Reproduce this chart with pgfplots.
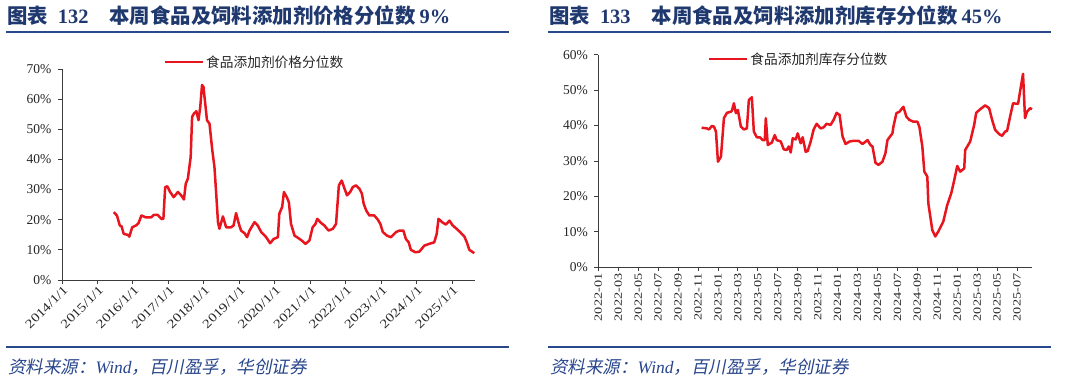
\documentclass[border=0pt]{standalone}
\usepackage{fontspec}
\usepackage{pgfplots}
\pgfplotsset{compat=1.18}
\usepackage{graphicx}
\setmainfont{Liberation Serif}
\newfontfamily\cjk{Noto Sans CJK SC}
\newfontfamily\cjkit[FakeSlant=0.2]{Noto Sans CJK SC}
\definecolor{navy}{RGB}{31,56,110}
\definecolor{rule}{RGB}{40,72,140}
\definecolor{srcblue}{RGB}{40,70,140}
\definecolor{lred}{RGB}{232,20,30}
\definecolor{axgray}{RGB}{60,60,60}
\newcommand{\sx}[1]{\scalebox{1.22}[1]{#1}}
\newcommand{\sy}[1]{\scalebox{1.3}[1]{#1}}

\pgfplotstableread{
x y
2015.46 22.5
2015.55 21.4
2015.63 18.1
2015.68 17.8
2015.74 15.3
2015.85 15.0
2015.90 14.4
2015.98 17.5
2016.09 18.1
2016.16 18.9
2016.24 21.4
2016.36 20.8
2016.52 20.8
2016.59 21.6
2016.70 21.6
2016.80 20.3
2016.86 20.3
2016.91 30.8
2016.97 31.1
2017.05 29.2
2017.15 27.5
2017.27 29.2
2017.36 28.1
2017.44 26.7
2017.49 31.9
2017.55 33.6
2017.63 40.8
2017.67 54.1
2017.72 55.2
2017.79 56.0
2017.85 53.0
2017.90 57.4
2017.95 64.7
2017.99 64.1
2018.09 53.0
2018.16 51.9
2018.24 43.0
2018.30 37.5
2018.35 28.6
2018.40 19.2
2018.44 17.0
2018.54 21.1
2018.63 17.5
2018.77 17.5
2018.84 18.1
2018.91 22.2
2018.99 18.6
2019.05 16.4
2019.15 15.5
2019.22 14.2
2019.29 16.4
2019.43 19.2
2019.52 18.1
2019.62 15.9
2019.76 14.2
2019.87 12.2
2019.97 13.6
2020.09 14.2
2020.13 22.0
2020.21 24.2
2020.26 29.2
2020.34 27.5
2020.40 25.8
2020.46 18.6
2020.56 14.7
2020.63 14.2
2020.74 13.3
2020.87 12.0
2020.98 13.1
2021.07 17.5
2021.15 18.6
2021.20 20.3
2021.31 18.9
2021.40 18.1
2021.52 16.4
2021.64 17.0
2021.73 18.6
2021.81 31.4
2021.89 33.0
2021.97 30.3
2022.04 28.1
2022.13 29.2
2022.20 30.8
2022.29 31.4
2022.39 30.3
2022.46 28.6
2022.51 25.3
2022.58 23.1
2022.67 21.4
2022.81 21.4
2022.91 20.0
2022.98 18.6
2023.05 15.9
2023.17 14.7
2023.28 14.2
2023.42 15.9
2023.52 16.4
2023.63 16.4
2023.70 13.6
2023.78 12.5
2023.84 10.0
2023.97 9.2
2024.08 9.4
2024.22 11.4
2024.36 12.0
2024.50 12.5
2024.57 15.3
2024.62 20.3
2024.72 19.2
2024.83 18.4
2024.93 19.7
2025.02 18.1
2025.13 17.0
2025.23 15.9
2025.35 14.4
2025.42 12.5
2025.49 10.0
2025.63 8.9
}\pricedata

\pgfplotstableread{
x y
10.36 39.4
10.9 39.2
11.1 38.9
11.4 39.9
11.6 39.7
11.8 38.3
11.9 34.1
12.0 29.8
12.3 31.2
12.6 42.1
12.9 43.6
13.3 43.9
13.4 44.2
13.6 46.3
13.8 43.5
14.0 44.4
14.3 39.7
14.6 38.9
14.9 39.2
15.1 47.2
15.4 48.0
15.6 38.3
15.9 36.7
16.2 36.7
16.5 35.9
16.7 35.9
16.8 42.1
17.0 34.5
17.4 35.2
17.7 37.3
17.9 35.9
18.3 35.5
18.6 33.3
18.9 33.1
19.1 34.1
19.3 32.4
19.5 36.4
19.8 36.1
20.0 37.8
20.3 35.0
20.5 36.7
20.8 32.6
21.0 32.8
21.3 35.5
21.6 38.9
21.9 40.5
22.3 39.2
22.6 39.5
22.9 40.5
23.3 40.2
23.6 41.6
23.9 43.6
24.2 43.0
24.5 36.9
24.8 34.8
25.2 35.5
25.6 35.7
26.1 35.7
26.5 34.8
27.0 35.9
27.3 34.5
27.5 34.1
27.8 29.5
28.1 28.9
28.5 29.8
28.8 32.2
29.0 35.9
29.5 37.8
29.6 39.7
29.9 43.5
30.2 43.9
30.6 45.3
30.9 42.5
31.2 41.6
31.6 41.1
32.0 41.1
32.2 39.7
32.5 34.1
32.7 27.0
33.0 25.6
33.1 18.1
33.5 10.5
33.8 8.7
34.1 10.1
34.6 12.9
35.0 17.6
35.4 20.9
35.7 24.6
36.0 28.6
36.3 27.0
36.7 27.9
36.8 33.1
37.3 35.5
37.7 40.2
37.9 43.6
38.3 44.6
38.8 45.7
39.2 44.9
39.5 41.6
39.8 38.8
40.2 37.6
40.5 37.1
40.8 38.3
41.0 38.5
41.3 42.5
41.6 46.3
42.1 46.1
42.3 49.6
42.6 54.6
42.8 42.1
43.0 43.9
43.3 44.9
43.5 44.6
}\stockdata

\begin{document}
\begin{tikzpicture}
\useasboundingbox (0pt,0pt) rectangle (1068pt,381pt);
% titles
\node[anchor=west,inner sep=0pt,text=navy,font=\fontsize{20.4}{20.4}\selectfont\bfseries] at (7pt,365.5pt)
  {{\cjk 图表}\hspace{10pt}132\hspace{21pt}{\cjk 本周食品及饲料添加剂价格分位数}\hspace{4pt}9\%};
\node[anchor=west,inner sep=0pt,text=navy,font=\fontsize{20.4}{20.4}\selectfont\bfseries] at (549pt,365.5pt)
  {{\cjk 图表}\hspace{10pt}133\hspace{21pt}{\cjk 本周食品及饲料添加剂库存分位数}\hspace{4pt}45\%};
\draw[rule,line width=1.6pt] (6pt,349pt) -- (509pt,349pt);
\draw[rule,line width=1.6pt] (548pt,349pt) -- (1051pt,349pt);
\draw[rule,line width=1.6pt] (6pt,34pt) -- (509pt,34pt);
\draw[rule,line width=1.6pt] (548pt,34pt) -- (1051pt,34pt);
\node[anchor=west,inner sep=0pt,text=srcblue,font=\fontsize{17.5}{17.5}\selectfont] at (8pt,13.5pt)
  {{\cjkit 资料来源：}\textit{Wind}{\cjkit ，百川盈孚，华创证券}};
\node[anchor=west,inner sep=0pt,text=srcblue,font=\fontsize{17.5}{17.5}\selectfont] at (550pt,13.5pt)
  {{\cjkit 资料来源：}\textit{Wind}{\cjkit ，百川盈孚，华创证券}};

\pgfplotsset{
  every axis/.append style={
    scale only axis,
    axis x line*=bottom, axis y line*=left,
    axis line style={axgray,line width=0.8pt},
    tick style={axgray,line width=0.8pt},
    tick align=outside,
    major tick length=4pt,
    tick label style={font=\fontsize{13.5}{13.5}\selectfont,text=black!85},
    yticklabel style={xshift=-3pt},
    clip=false,
    legend style={draw=none,fill=none,font=\cjk\fontsize{13.7}{13.7}\selectfont,text=black!85},
    legend image code/.code={\draw[#1] (0pt,0pt) -- (38pt,0pt);},
  }
}
\begin{axis}[
  at={(62pt,101pt)}, anchor=south west,
  width=413pt, height=211pt,
  xmin=2014, xmax=2025.65, ymin=0, ymax=70,
  xtick={2014,2015,...,2025},
  xticklabels={\sx{2014/1/1},\sx{2015/1/1},\sx{2016/1/1},\sx{2017/1/1},\sx{2018/1/1},\sx{2019/1/1},\sx{2020/1/1},\sx{2021/1/1},\sx{2022/1/1},\sx{2023/1/1},\sx{2024/1/1},\sx{2025/1/1}},
  xticklabel style={rotate=45,anchor=north east,inner sep=1pt,xshift=1pt,font=\fontsize{12.5}{12.5}\selectfont},
  ytick={0,10,...,70},
  yticklabels={0\%,10\%,20\%,30\%,40\%,50\%,60\%,70\%},
  legend style={at={(0.466,1.033)},anchor=center},
]
\addplot[lred,line width=2.5pt,line join=round] table[x=x,y=y] {\pricedata};
\addlegendentry{食品添加剂价格分位数}
\end{axis}

\begin{axis}[
  at={(598.3pt,113.7pt)}, anchor=south west,
  width=433.7pt, height=212.6pt,
  xmin=0, xmax=43.5, ymin=0, ymax=60,
  xtick={0,2,...,42},
  xticklabels={\sy{2022-01},\sy{2022-03},\sy{2022-05},\sy{2022-07},\sy{2022-09},\sy{2022-11},\sy{2023-01},\sy{2023-03},\sy{2023-05},\sy{2023-07},\sy{2023-09},\sy{2023-11},\sy{2024-01},\sy{2024-03},\sy{2024-05},\sy{2024-07},\sy{2024-09},\sy{2024-11},\sy{2025-01},\sy{2025-03},\sy{2025-05},\sy{2025-07}},
  xticklabel style={rotate=90,anchor=east,inner sep=2pt,font=\fontsize{11}{11}\selectfont},
  ytick={0,10,...,60},
  yticklabels={0\%,10\%,20\%,30\%,40\%,50\%,60\%},
  legend style={at={(0.462,0.98)},anchor=center},
]
\addplot[lred,line width=2.5pt,line join=round] table[x=x,y=y] {\stockdata};
\addlegendentry{食品添加剂库存分位数}
\end{axis}
\end{tikzpicture}
\end{document}
